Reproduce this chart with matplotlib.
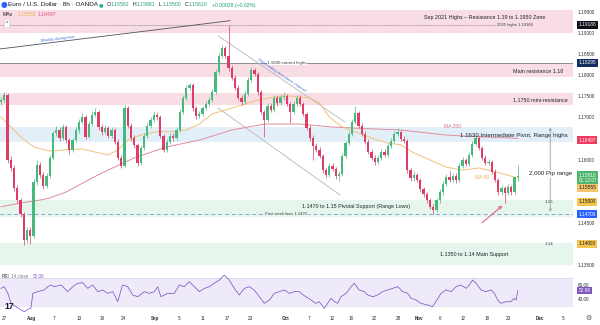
import matplotlib
matplotlib.use("Agg")
import matplotlib.pyplot as plt
from matplotlib.transforms import blended_transform_factory, offset_copy
import numpy as np

plt.rcParams['font.family'] = ['Liberation Sans', 'DejaVu Sans']

# ---------------- data ----------------
first_open = 1.1736
closes = [1.1741, 1.1753, 1.1599, 1.1580, 1.1533, 1.1504, 1.1471, 1.1409, 1.1433, 1.1419,
          1.1547, 1.1587, 1.1563, 1.1537, 1.1561, 1.1604, 1.1663, 1.1670, 1.1651, 1.1677,
          1.1646, 1.1623, 1.1646, 1.1670, 1.1689, 1.1701, 1.1654, 1.1685, 1.1706, 1.1713,
          1.1677, 1.1666, 1.1675, 1.1656, 1.1670, 1.1642, 1.1604, 1.1585, 1.1722, 1.1680,
          1.1651, 1.1635, 1.1592, 1.1628, 1.1656, 1.1680, 1.1694, 1.1706, 1.1701, 1.1656,
          1.1623, 1.1642, 1.1656, 1.1651, 1.1670, 1.1713, 1.1746, 1.1770, 1.1777, 1.1722,
          1.1703, 1.1708, 1.1722, 1.1732, 1.1741, 1.1760, 1.1808, 1.1846, 1.1865, 1.1846,
          1.1817, 1.1794, 1.1770, 1.1746, 1.1737, 1.1756, 1.1789, 1.1813, 1.1803, 1.1760,
          1.1713, 1.1694, 1.1727, 1.1718, 1.1746, 1.1734, 1.1748, 1.1751, 1.1732, 1.1713,
          1.1732, 1.1746, 1.1732, 1.1708, 1.1675, 1.1651, 1.1632, 1.1623, 1.1609, 1.1575,
          1.1563, 1.1585, 1.1578, 1.1561, 1.1566, 1.1609, 1.1639, 1.1661, 1.1689, 1.1710,
          1.1680, 1.1661, 1.1642, 1.1618, 1.1604, 1.1594, 1.1604, 1.1618, 1.1611, 1.1632,
          1.1644, 1.1661, 1.1666, 1.1649, 1.1644, 1.1575, 1.1556, 1.1563, 1.1552, 1.1530,
          1.1518, 1.1504, 1.1488, 1.1480, 1.1504, 1.1523, 1.1542, 1.1559, 1.1552, 1.1561,
          1.1552, 1.1585, 1.1599, 1.1590, 1.1611, 1.1637, 1.1651, 1.1628, 1.1604, 1.1592,
          1.1594, 1.1571, 1.1552, 1.1523, 1.1533, 1.1521, 1.1535, 1.1523, 1.15582, 1.15610]
highs = [1.1749, 1.1760, 1.1758, 1.1608, 1.1587, 1.1540, 1.1510, 1.1476, 1.1441, 1.1439,
         1.1553, 1.1598, 1.1594, 1.1570, 1.1567, 1.1611, 1.1668, 1.1680, 1.1676, 1.1684,
         1.1682, 1.1652, 1.1651, 1.1676, 1.1696, 1.1710, 1.1706, 1.1691, 1.1714, 1.1722,
         1.1718, 1.1684, 1.1682, 1.1680, 1.1677, 1.1675, 1.1648, 1.1610, 1.1730, 1.1728,
         1.1686, 1.1657, 1.1640, 1.1634, 1.1662, 1.1687, 1.1701, 1.1714, 1.1712, 1.1706,
         1.1661, 1.1648, 1.1663, 1.1662, 1.1676, 1.1719, 1.1752, 1.1776, 1.1782, 1.1781,
         1.1728, 1.1715, 1.1728, 1.1739, 1.1748, 1.1766, 1.1814, 1.1853, 1.1872, 1.1870,
         1.1918, 1.1823, 1.1800, 1.1776, 1.1752, 1.1762, 1.1795, 1.1819, 1.1818, 1.1808,
         1.1765, 1.1718, 1.1733, 1.1734, 1.1752, 1.1752, 1.1755, 1.1760, 1.1756, 1.1737,
         1.1738, 1.1753, 1.1752, 1.1737, 1.1713, 1.1681, 1.1657, 1.1638, 1.1629, 1.1614,
         1.1581, 1.1592, 1.1591, 1.1583, 1.1573, 1.1615, 1.1645, 1.1667, 1.1695, 1.1727,
         1.1715, 1.1686, 1.1667, 1.1648, 1.1624, 1.1610, 1.1611, 1.1624, 1.1624, 1.1638,
         1.1650, 1.1667, 1.1675, 1.1671, 1.1655, 1.1649, 1.1581, 1.1572, 1.1569, 1.1557,
         1.1536, 1.1524, 1.1510, 1.1494, 1.1510, 1.1529, 1.1548, 1.1566, 1.1572, 1.1568,
         1.1567, 1.1591, 1.1605, 1.1604, 1.1617, 1.1643, 1.1658, 1.1656, 1.1633, 1.1610,
         1.1601, 1.1599, 1.1577, 1.1557, 1.1540, 1.1538, 1.1542, 1.1540, 1.1562, 1.15861]
lows = [1.1730, 1.1736, 1.1592, 1.1574, 1.1526, 1.1497, 1.1463, 1.1398, 1.1402, 1.1400,
        1.1414, 1.1540, 1.1556, 1.1530, 1.1532, 1.1556, 1.1600, 1.1655, 1.1645, 1.1646,
        1.1640, 1.1612, 1.1618, 1.1641, 1.1664, 1.1684, 1.1648, 1.1650, 1.1680, 1.1700,
        1.1671, 1.1659, 1.1660, 1.1650, 1.1651, 1.1636, 1.1598, 1.1580, 1.1582, 1.1675,
        1.1645, 1.1628, 1.1585, 1.1588, 1.1622, 1.1650, 1.1675, 1.1690, 1.1694, 1.1650,
        1.1617, 1.1618, 1.1637, 1.1645, 1.1646, 1.1665, 1.1708, 1.1740, 1.1764, 1.1716,
        1.1697, 1.1698, 1.1703, 1.1717, 1.1726, 1.1736, 1.1755, 1.1802, 1.1840, 1.1840,
        1.1810, 1.1788, 1.1764, 1.1740, 1.1730, 1.1732, 1.1751, 1.1784, 1.1797, 1.1754,
        1.1707, 1.1654, 1.1690, 1.1712, 1.1713, 1.1728, 1.1729, 1.1742, 1.1726, 1.1687,
        1.1708, 1.1727, 1.1726, 1.1702, 1.1669, 1.1645, 1.1599, 1.1617, 1.1603, 1.1569,
        1.1557, 1.1558, 1.1572, 1.1555, 1.1549, 1.1562, 1.1604, 1.1634, 1.1656, 1.1684,
        1.1674, 1.1655, 1.1636, 1.1612, 1.1598, 1.1588, 1.1589, 1.1599, 1.1605, 1.1606,
        1.1627, 1.1639, 1.1655, 1.1643, 1.1638, 1.1569, 1.1550, 1.1550, 1.1546, 1.1524,
        1.1512, 1.1498, 1.1482, 1.1471, 1.1475, 1.1498, 1.1517, 1.1537, 1.1546, 1.1546,
        1.1545, 1.1547, 1.1580, 1.1584, 1.1585, 1.1606, 1.1632, 1.1622, 1.1598, 1.1586,
        1.1587, 1.1565, 1.1546, 1.1517, 1.1517, 1.1497, 1.1515, 1.1517, 1.1518, 1.15500]

ma50_idx = [0, 6, 10, 15, 20, 25, 30, 33, 36, 39, 43, 48, 53, 57, 61, 65, 71, 74, 79, 84,
            88, 92, 95, 98, 101, 104, 107, 110, 114, 119, 123, 127, 132, 137, 142, 147, 152, 156, 159]
ma50_val = [1.1701, 1.1654, 1.1630, 1.1620, 1.1623, 1.1625, 1.1616, 1.1611, 1.1623, 1.1646,
            1.1658, 1.1666, 1.1666, 1.1670, 1.1684, 1.1708, 1.1722, 1.1729, 1.1741, 1.1748,
            1.1751, 1.1748, 1.1746, 1.1734, 1.1701, 1.1682, 1.1670, 1.1663, 1.1651, 1.1639,
            1.1635, 1.1616, 1.1599, 1.1582, 1.1575, 1.1580, 1.1571, 1.1563, 1.15555]
ma200_idx = [0, 6, 12, 15, 20, 27, 31, 41, 51, 61, 71, 81, 92, 102, 113, 123, 137, 147, 157, 159]
ma200_val = [1.1488, 1.1497, 1.1504, 1.1509, 1.1523, 1.1552, 1.1568, 1.1604, 1.1630, 1.1646,
             1.1670, 1.1684, 1.1684, 1.1677, 1.1673, 1.1670, 1.1658, 1.1654, 1.1651, 1.16497]

rsi_idx = [0, 1.0, 2.1, 3.1, 4.6, 6.2, 7.2, 8.2, 9.2, 9.8,
           11.3, 13.3, 14.4, 15.4, 16.4, 18.5, 20, 20.5, 22.1, 23.6,
           25.1, 26.7, 28.2, 29.8, 31.3, 32.8, 34.4, 35.9, 37.4, 39,
           40.5, 42.1, 44.1, 45.6, 47.2, 48.2, 49.2, 51.3, 53.3, 54.9,
           56.4, 57.9, 59.5, 61, 62.6, 64.1, 65.6, 67.2, 68.7, 70.2,
           71.8, 73.3, 74.9, 76.4, 77.9, 79.5, 81, 82.6, 84.1, 85.6,
           87.2, 88.7, 90.2, 91.8,
           92.3, 93.8, 95.4, 96.9, 97.9, 99.5, 100.5, 101.5, 102.6, 103.6,
           104.6, 106.2, 107.7, 108.7, 110.2, 111.8, 112.8, 114.4, 115.9, 117.4,
           119, 120.5, 122.1, 123.6, 125.1, 126.2, 127.7, 129.2, 131.3, 132.8,
           133.8, 135.4, 136.9, 138.5, 140, 141.5, 143.1, 144.1, 145.1, 146.2,
           147.7, 149.2, 150.8, 151.8, 152.8, 153.8, 155.4, 156.9, 157.9, 158.5, 159]
rsi_val = [55.2, 57.6, 48.1, 33.8, 29.0, 24.3, 21.9, 25.2, 26.7, 48.1,
           50.5, 52.9, 57.6, 60, 57.6, 60, 52.9, 50.5, 57.6, 62.4,
           63.3, 55.2, 60, 50.5, 52.9, 48.1, 50.5, 36.2, 60, 57.6,
           45.7, 43.3, 50.5, 48.1, 50.5, 57.6, 43.3, 48.1, 48.1, 60,
           57.6, 64.8, 57.6, 50.5, 55.2, 57.6, 62.4, 67.1, 74.3, 67.1,
           55.2, 45.7, 55.2, 57.6, 52.9, 43.3, 33.8, 38.6, 48.1, 50.5,
           52.9, 48.1, 50.5, 50.5,
           48.1, 43.3, 38.6, 33.8, 36.2, 26.7, 33.8, 41.0, 36.2, 33.8,
           43.3, 48.1, 57.6, 62.4, 52.9, 50.5, 45.7, 43.3, 45.7, 50.5,
           52.9, 55.2, 57.6, 50.5, 48.1, 41.0, 38.6, 33.8, 31.4, 29.0,
           36.2, 48.1, 52.9, 50.5, 57.6, 60, 55.2, 60, 67.1, 62.4,
           52.9, 50.5, 52.9, 48.1, 38.6, 33.8, 36.2, 36.2, 41.0, 38.6, 52.09]

xtick_pos = [1.2, 9.4, 16.3, 24.0, 31.1, 37.8, 47.4, 54.8, 62.2, 69.5, 76.6, 87.7,
             94.8, 101.8, 107.7, 114.8, 122.2, 128.6, 135.1, 142.2, 149.5, 156.0, 165.8, 172.9]
xtick_labels = ['27', 'Aug', '7', '13', '19', '24', 'Sep', '5', '11', '17', '23', 'Oct',
                '7', '12', '16', '22', '28', 'Nov', '6', '12', '18', '23', 'Dec', '5']
month_labels = ['Aug', 'Sep', 'Oct', 'Nov', 'Dec']

price_ticks = [1.135, 1.145, 1.160, 1.170, 1.175, 1.180, 1.185, 1.190, 1.195]

zone_lo = [1.1900, 1.1796, 1.1730, 1.1641, 1.1463, 1.1350]
zone_hi = [1.1955, 1.1829, 1.1758, 1.1676, 1.1503, 1.1402]
zone_col = ['#F9DDE4', '#F9DDE4', '#F9DDE4', '#E3EFF8', '#E6F6EC', '#E6F6EC']

level_2025_high = 1.19188
level_current_high = 1.18295
level_week_low = 1.1470

tag_values = ['1.19188', '1.18295', '1.16497', '1.15610\n01:12:07', '1.15555', '1.15000', '1.14700', '1.14000']
tag_prices = [1.19188, 1.18295, 1.16497, 1.15610, 1.15555, 1.15000, 1.14700, 1.14000]
tag_bg = ['#0E1018', '#132C5E', '#EE3A5E', '#4CB56C', '#F5C46C', '#F5C44E', '#2962FF', '#F5C44E']
tag_fg = ['white', 'white', 'white', 'white', '#131722', '#131722', 'white', '#131722']
tag_shift_px = [0, 0, 1.5, 2.0, 9.5, 0, 0, 0]

# trend lines (bar index, price)
weekly_div = ([-0.31, 70.5], [1.1862, 1.1929])
chan_upper = ([66.8, 105.8], [1.1893, 1.1689])
chan_lower = ([66.8, 104.3], [1.1722, 1.1516])

UP = '#45B97E'
DN = '#DE3D66'

# ---------------- figure ----------------
W, H = 600, 325
fig = plt.figure(figsize=(W / 100, H / 100), dpi=100)
fig.patch.set_facecolor('white')


def fx(px):
    return px / W


def fy(py):
    return 1 - py / H


ax = fig.add_axes([0, fy(268), fx(573), 268 / H])
rx = fig.add_axes([0, fy(314), fx(573), 44 / H])
XL = (-0.31, 176.0)
ax.set_xlim(*XL)
ax.set_ylim(1.1343, 1.1978)
for a in (ax, rx):
    for s in a.spines.values():
        s.set_visible(False)
    a.set_facecolor('none')

tr = blended_transform_factory(ax.transAxes, ax.transData)

# zones
for lo, hi, col in zip(zone_lo, zone_hi, zone_col):
    ax.axhspan(lo, hi, color=col, lw=0, zorder=0)

# levels
ax.axhline(level_2025_high, xmax=532 / 573, color='#5D606B', lw=0.5, ls=(0, (1, 1.2)), zorder=1)
ax.axhline(level_current_high, color='#8A8D96', lw=0.7, zorder=1)
ax.axhline(level_week_low, color='#7FA6DE', lw=0.7, ls=(0, (4, 3)), zorder=1)

# trend lines
ax.plot(*weekly_div, color='#50535E', lw=0.6, zorder=2)
ax.plot(*chan_upper, color='#B4B7BF', lw=0.6, zorder=2)
ax.plot(*chan_lower, color='#B4B7BF', lw=0.6, zorder=2)

# moving averages
ax.plot(ma200_idx, ma200_val, color='#E08C9E', lw=0.7, zorder=3)
ax.plot(ma50_idx, ma50_val, color='#F2C27C', lw=0.7, zorder=3)

# candles
c = np.array(closes)
o = np.array([first_open] + closes[:-1])
hi_ = np.maximum(np.array(highs), np.maximum(o, c))
lo_ = np.minimum(np.array(lows), np.minimum(o, c))
idx = np.arange(len(c))
cols = np.where(c >= o, UP, DN)
ax.vlines(idx, lo_, hi_, colors=cols, lw=0.5, zorder=4)
ax.bar(idx, np.maximum(np.abs(c - o), 0.00008), bottom=np.minimum(o, c), width=0.62,
       color=cols, lw=0, zorder=5)

# axis ticks
ax.set_xticks([])
ax.yaxis.tick_right()
ax.set_yticks(price_ticks)
ax.set_yticklabels(['%.5f' % v for v in price_ticks])
ax.tick_params(axis='y', length=0, pad=3.2, labelsize=3.4, labelcolor='#2A2E39')

# tags
for val, p, bg, fg, sh in zip(tag_values, tag_prices, tag_bg, tag_fg, tag_shift_px):
    t = offset_copy(tr, fig=fig, x=0, y=-sh, units='dots')
    ax.text(578.5 / 573, p, val, transform=t, fontsize=3.4, color=fg, ha='left', va='center',
            linespacing=1.1, bbox=dict(boxstyle='square,pad=0.3', fc=bg, ec='none'), zorder=10)

# zone labels
tc = '#1E222D'
ax.text(485 / 573, 1.1936, 'Sep 2021 Highs \u2013 Resistance 1.19 to 1.1950 Zone', transform=tr,
        fontsize=3.9, color=tc, ha='center', va='center')
ax.text(533 / 573, level_2025_high, '2025 highs 1.19188', transform=tr, fontsize=3.0, color='#3A3D47',
        ha='right', va='center', bbox=dict(boxstyle='square,pad=0.15', fc='#F9DDE4', ec='none'))
ax.text(287 / 573, level_current_high, '1.1830 current highs', transform=tr, fontsize=3.2,
        color='#3A3D47', ha='center', va='center',
        bbox=dict(boxstyle='square,pad=0.15', fc='white', ec='none'), zorder=6)
ax.text(563 / 573, 1.1808, 'Main resistance 1.18', transform=tr, fontsize=3.9, color=tc,
        ha='right', va='center')
ax.text(568 / 573, 1.1741, '1.1750 mini-resistance', transform=tr, fontsize=3.9, color=tc,
        ha='right', va='center')
ax.text(568 / 573, 1.1658, '1.1630 Intermediate Pivot, Range highs', transform=tr, fontsize=4.4,
        color=tc, ha='right', va='center', zorder=6)
ax.text(356 / 573, 1.1488, '1.1470 to 1.15 Pivotal Support (Range Lows)', transform=tr,
        fontsize=3.9, color=tc, ha='center', va='center', zorder=6)
ax.text(286 / 573, level_week_low, 'Past week lows 1.1470', transform=tr, fontsize=3.0,
        color='#3A3D47', ha='center', va='center',
        bbox=dict(boxstyle='square,pad=0.15', fc='#E6F6EC', ec='none'), zorder=6)
ax.text(474 / 573, 1.1376, '1.1350 to 1.14 Main Support', transform=tr, fontsize=3.9, color=tc,
        ha='center', va='center')
ax.text(553 / 573, 1.1500, '1.15', transform=tr, fontsize=3.2, color='#3A3D47', ha='right', va='center')
ax.text(553 / 573, 1.1400, '1.14', transform=tr, fontsize=3.2, color='#3A3D47', ha='right', va='center')

ax.text(17.5, 1.1886, 'Weekly divergence', fontsize=3.0, color='#3C6FE0', rotation=7,
        ha='center', va='center', rotation_mode='anchor', zorder=6)
ax.text(86.3, 1.1800, 'Descending resistance channel', fontsize=3.0, color='#3C6FE0', rotation=-34,
        ha='center', va='center', rotation_mode='anchor', zorder=6)

ax.text(138.8, 1.1678, 'MA 200', fontsize=3.6, color='#D9708A', ha='center', va='center', zorder=6)
ax.text(148.0, 1.1558, 'MA 50', fontsize=3.6, color='#EDB155', ha='center', va='center', zorder=6)

# pip range arrow
ax.annotate('', xy=(169, 1.1476), xytext=(169, 1.1676),
            arrowprops=dict(arrowstyle='<->', color='#9A9DA6', lw=0.6,
                            mutation_scale=4, shrinkA=0, shrinkB=0), zorder=6)
ax.text(169, 1.1566, '2,000 Pip range', fontsize=4.4, color=tc, ha='center', va='center',
        bbox=dict(boxstyle='square,pad=0.2', fc='white', ec='none'), zorder=7)

# pink arrow
ax.annotate('', xy=(154.3, 1.1491), xytext=(148.0, 1.1450),
            arrowprops=dict(arrowstyle='->', color='#E3648C', lw=0.8, mutation_scale=5,
                            shrinkA=0, shrinkB=0), zorder=7)

# ---------------- RSI ----------------
rx.set_xlim(*XL)
rx.set_ylim(18.6, 81.4)
rx.axhspan(30, 70, color='#EFEAF9', lw=0, zorder=0)
rx.axhline(70, color='#A8A2BE', lw=0.45, ls=(0, (1, 1.5)), zorder=1)
rx.axhline(30, color='#A8A2BE', lw=0.45, ls=(0, (1, 1.5)), zorder=1)
rx.plot(rsi_idx, rsi_val, color='#7E57C2', lw=0.55, zorder=3)
rx.yaxis.tick_right()
rx.set_yticks([40, 60])
rx.set_yticklabels(['40.00', '60.00'])
rx.tick_params(axis='y', length=0, pad=3.2, labelsize=3.4, labelcolor='#2A2E39')
rx.set_xticks(xtick_pos)
rx.set_xticklabels(xtick_labels)
rx.tick_params(axis='x', length=0, pad=1.6, labelsize=3.3, labelcolor='#2A2E39')
for lab in rx.get_xticklabels():
    if lab.get_text() in month_labels:
        lab.set_fontweight('bold')
rtr = blended_transform_factory(rx.transAxes, rx.transData)
rx.text(578.5 / 573, rsi_val[-1], '%.2f' % rsi_val[-1], transform=rtr, fontsize=3.4, color='white',
        ha='left', va='center', bbox=dict(boxstyle='square,pad=0.3', fc='#7E57C2', ec='none'))
rx.text(2 / 573, 0.86, 'RSI', transform=rx.transAxes, fontsize=3.3, color='#2A2E39', ha='left', va='center')
rx.text(11 / 573, 0.86, '14 close', transform=rx.transAxes, fontsize=3.3, color='#787B86', ha='left', va='center')
rx.text(33 / 573, 0.86, '%.2f' % rsi_val[-1], transform=rx.transAxes, fontsize=3.3, color='#7E57C2',
        ha='left', va='center')
rx.text(4 / 573, 0.16, '17', transform=rx.transAxes, fontsize=6.2, color='#131722', fontweight='bold',
        ha='left', va='center')

# ---------------- header ----------------
fig.text(fx(3.5), fy(5), '\u25CF', fontsize=5.5, color='#2962FF', ha='center', va='center',
         family='DejaVu Sans')
fig.text(fx(7.5), fy(5), 'Euro / U.S. Dollar \u00B7 8h \u00B7 OANDA', fontsize=4.6, color='#131722',
         ha='left', va='center')
fig.text(fx(101), fy(5), '\u25CF', fontsize=3.8, color='#22AB94', ha='center', va='center',
         family='DejaVu Sans')
hdr_green = '#1E9E80'
for xp, lab, val in [(107, 'O', '1.15582'), (133, 'H', '1.15861'), (159, 'L', '1.15500'), (185, 'C', '1.15610')]:
    fig.text(fx(xp), fy(5), lab, fontsize=3.7, color='#131722', ha='left', va='center')
    fig.text(fx(xp + 3.8), fy(5), val, fontsize=3.7, color=hdr_green, ha='left', va='center')
fig.text(fx(212), fy(5), '+0.00028 (+0.02%)', fontsize=3.7, color=hdr_green, ha='left', va='center')
fig.text(fx(3), fy(14), 'MAs', fontsize=3.7, color='#131722', ha='left', va='center')
fig.text(fx(17.5), fy(14), '1.15555', fontsize=3.7, color='#EBAE4E', ha='left', va='center')
fig.text(fx(38), fy(14), '1.16497', fontsize=3.7, color='#D9577A', ha='left', va='center')
fig.text(fx(7), fy(23.5), '^', fontsize=3.4, color='#131722', ha='center', va='center',
         bbox=dict(boxstyle='round,pad=0.35,rounding_size=0.4', fc='white', ec='#C9CBD1', lw=0.4))
fig.text(fx(588), fy(318), '\u2699', fontsize=5, color='#50535E', ha='center', va='center',
         family='DejaVu Sans')

fig.savefig('out.png', dpi=100, facecolor='white')
